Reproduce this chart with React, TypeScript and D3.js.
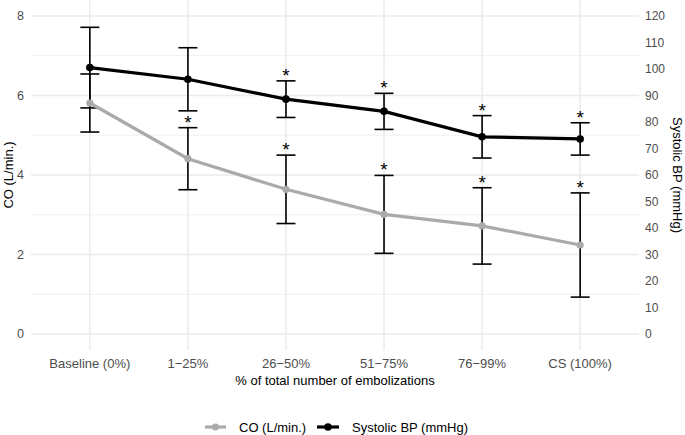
import { useEffect } from "react";
import * as d3 from "d3";

const categories = ["Baseline (0%)", "1\u221225%", "26\u221250%", "51\u221275%", "76\u221299%", "CS (100%)"];
const coMean = [5.81, 4.41, 3.64, 3.01, 2.72, 2.24];
const coSd = [0.73, 0.78, 0.86, 0.98, 0.96, 1.31];
const coSig = [false, true, true, true, true, true];
const bpMean = [100.5, 96.1, 88.6, 84.0, 74.4, 73.6];
const bpSd = [15.2, 11.9, 6.9, 6.8, 8.0, 6.1];
const bpSig = [false, false, true, true, true, true];
const coTicks = [0, 2, 4, 6, 8];
const coMinor = [1, 3, 5, 7];
const bpTicks = [0, 10, 20, 30, 40, 50, 60, 70, 80, 90, 100, 110, 120];

const W = 685;
const H = 435;
const FONT = "'Liberation Sans', Arial, sans-serif";
const GRID = "#ebebeb";
const CO_COL = "#aaaaaa";
const BP_COL = "#000000";

export default function App() {
  useEffect(() => {
    document.body.style.margin = "0";
  }, []);

  const x = d3.scalePoint<string>().domain(categories).range([31, 639]).padding(0.6);
  const y = d3.scaleLinear().domain([-0.4, 8.4]).range([350, 0]);
  const yBp = d3.scaleLinear().domain([-6, 126]).range([350, 0]);

  const line = d3
    .line<number>()
    .x((_, i) => x(categories[i])!)
    .y((d) => d);

  const coPts = coMean.map((v) => y(v));
  const bpPts = bpMean.map((v) => yBp(v));
  const capHalf = 9.5;

  const errBar = (cx: number, lo: number, hi: number, key: string) => (
    <g key={key} stroke="#000" strokeWidth={1.6}>
      <line x1={cx} x2={cx} y1={lo} y2={hi} />
      <line x1={cx - capHalf} x2={cx + capHalf} y1={lo} y2={lo} />
      <line x1={cx - capHalf} x2={cx + capHalf} y1={hi} y2={hi} />
    </g>
  );

  const star = (cx: number, capY: number, key: string) => (
    <text key={key} x={cx} y={capY + 1} textAnchor="middle" fontSize={19} fill="#000">
      *
    </text>
  );

  return (
    <svg width={W} height={H} style={{ display: "block", background: "#fff" }} fontFamily={FONT}>
      {/* grid */}
      {coMinor.map((t) => (
        <line key={"mn" + t} x1={31} x2={639} y1={y(t)} y2={y(t)} stroke={GRID} strokeWidth={0.8} />
      ))}
      {coTicks.map((t) => (
        <line key={"mj" + t} x1={31} x2={639} y1={y(t)} y2={y(t)} stroke={GRID} strokeWidth={1.5} />
      ))}
      {categories.map((c) => (
        <line key={"v" + c} x1={x(c)} x2={x(c)} y1={0} y2={350} stroke={GRID} strokeWidth={1.5} />
      ))}

      {/* axes labels */}
      {coTicks.map((t) => (
        <text key={"yl" + t} x={24} y={y(t)} dy="0.35em" textAnchor="end" fontSize={12.5} fill="#4d4d4d">
          {t}
        </text>
      ))}
      {bpTicks.map((t) => (
        <text key={"yr" + t} x={645} y={yBp(t)} dy="0.35em" textAnchor="start" fontSize={12} fill="#4d4d4d">
          {t}
        </text>
      ))}
      {categories.map((c) => (
        <text key={"xl" + c} x={x(c)} y={363} dy="0.35em" textAnchor="middle" fontSize={13} fill="#4d4d4d">
          {c}
        </text>
      ))}
      <text x={335} y={380} dy="0.35em" textAnchor="middle" fontSize={13} fill="#000">
        % of total number of embolizations
      </text>
      <text transform={`translate(8,175) rotate(-90)`} dy="0.35em" textAnchor="middle" fontSize={13} fill="#000">
        CO (L/min.)
      </text>
      <text transform={`translate(678,175) rotate(90)`} dy="0.35em" textAnchor="middle" fontSize={13} fill="#000">
        Systolic BP (mmHg)
      </text>

      {/* error bars */}
      {coMean.map((m, i) => errBar(x(categories[i])!, y(m - coSd[i]), y(m + coSd[i]), "ce" + i))}
      {bpMean.map((m, i) => errBar(x(categories[i])!, yBp(m - bpSd[i]), yBp(m + bpSd[i]), "be" + i))}

      {/* lines and points */}
      <path d={line(coPts) ?? ""} fill="none" stroke={CO_COL} strokeWidth={3.2} />
      {coPts.map((p, i) => (
        <circle key={"cp" + i} cx={x(categories[i])} cy={p} r={3.6} fill={CO_COL} />
      ))}
      <path d={line(bpPts) ?? ""} fill="none" stroke={BP_COL} strokeWidth={3.2} />
      {bpPts.map((p, i) => (
        <circle key={"bp" + i} cx={x(categories[i])} cy={p} r={3.8} fill={BP_COL} />
      ))}

      {/* significance stars */}
      {coMean.map((m, i) => (coSig[i] ? star(x(categories[i])!, y(m + coSd[i]), "cs" + i) : null))}
      {bpMean.map((m, i) => (bpSig[i] ? star(x(categories[i])!, yBp(m + bpSd[i]), "bs" + i) : null))}

      {/* legend */}
      <g fontSize={13}>
        <line x1={205} x2={226} y1={427} y2={427} stroke={CO_COL} strokeWidth={3.2} />
        <circle cx={215.5} cy={427} r={3.6} fill={CO_COL} />
        <text x={239} y={427} dy="0.35em" fill="#000">
          CO (L/min.)
        </text>
        <line x1={317} x2={339} y1={427} y2={427} stroke={BP_COL} strokeWidth={3.2} />
        <circle cx={328} cy={427} r={3.8} fill={BP_COL} />
        <text x={352} y={427} dy="0.35em" fill="#000">
          Systolic BP (mmHg)
        </text>
      </g>
    </svg>
  );
}
